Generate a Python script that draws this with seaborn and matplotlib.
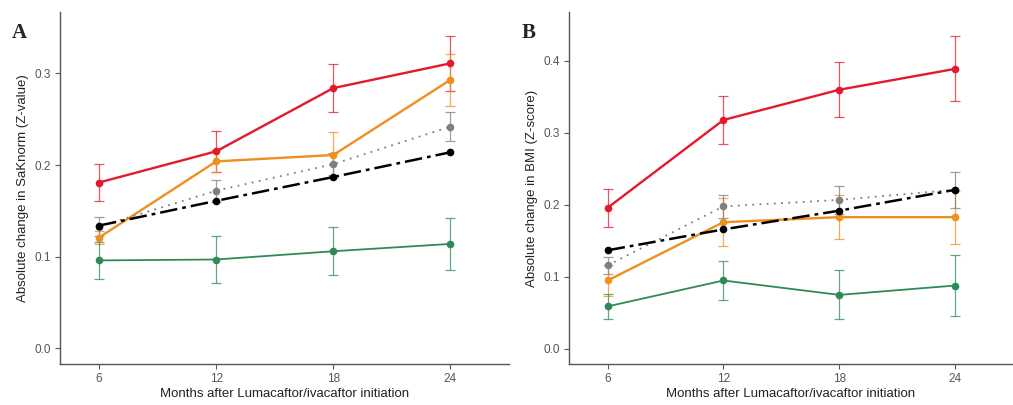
import pandas as pd
import matplotlib
matplotlib.use("Agg")
import matplotlib.pyplot as plt
import seaborn as sns

months = [6, 12, 18, 24]
groups = ["red", "orange", "gray", "black", "green"]

# Panel A - SaKnorm (Z-value)
a_red = [0.181, 0.215, 0.284, 0.311]
a_red_err = [0.020, 0.022, 0.026, 0.030]
a_orange = [0.121, 0.204, 0.211, 0.293]
a_orange_err = [0.007, 0.012, 0.025, 0.028]
a_gray = [0.133, 0.172, 0.201, 0.242]
a_gray_err = [0.010, 0.012, 0.012, 0.016]
a_black = [0.134, 0.161, 0.187, 0.214]
a_green = [0.096, 0.097, 0.106, 0.114]
a_green_err = [0.020, 0.026, 0.026, 0.028]

# Panel B - BMI (Z-score)
b_red = [0.196, 0.318, 0.360, 0.389]
b_red_err = [0.026, 0.034, 0.038, 0.045]
b_orange = [0.095, 0.176, 0.183, 0.183]
b_orange_err = [0.022, 0.033, 0.031, 0.037]
b_gray = [0.116, 0.198, 0.207, 0.221]
b_gray_err = [0.012, 0.016, 0.019, 0.025]
b_black = [0.137, 0.166, 0.192, 0.221]
b_green = [0.059, 0.095, 0.075, 0.088]
b_green_err = [0.017, 0.027, 0.034, 0.042]

colors = {"red": "#e31a2c", "orange": "#ef8f1c", "gray": "#7f7f7f",
          "black": "#000000", "green": "#2e8b57"}
dashes = {"red": "", "orange": "", "gray": (1, 3), "black": (7, 2, 1.5, 2), "green": ""}
widths = {"red": 1.7, "orange": 1.7, "gray": 1.3, "black": 1.8, "green": 1.3}


def build_frame(series):
    rows = []
    for g, vals in series.items():
        for m, v in zip(months, vals):
            rows.append({"month": m, "value": v, "group": g})
    return pd.DataFrame(rows)


def draw_panel(ax, series, errors, ylabel, ylim, yticks):
    df = build_frame(series)
    for g in groups:
        if g in errors:
            ax.errorbar(months, series[g], yerr=errors[g], fmt="none",
                        ecolor=colors[g], elinewidth=0.9, capsize=3.5,
                        capthick=0.9, alpha=0.75, zorder=2)
    for g in groups:
        sub = df[df["group"] == g]
        sns.lineplot(data=sub, x="month", y="value", ax=ax, color=colors[g],
                     marker="o", markersize=5.5, markeredgewidth=0,
                     linewidth=widths[g], dashes=False, zorder=3)
        line = ax.lines[-1]
        if dashes[g]:
            line.set_dashes(dashes[g])
    ax.set_xlim(4.0, 27.0)
    ax.set_ylim(*ylim)
    ax.set_xticks(months)
    ax.set_yticks(yticks)
    ax.set_yticklabels([f"{t:.1f}" for t in yticks])
    ax.set_xlabel("Months after Lumacaftor/ivacaftor initiation", fontsize=9.5,
                  color="#222222", labelpad=2)
    ax.set_ylabel(ylabel, fontsize=9.5, color="#222222", labelpad=4)
    ax.tick_params(axis="both", labelsize=8.5, colors="#555555", length=3.5,
                   width=0.8, bottom=True, left=True, pad=3)
    for side in ["top", "right"]:
        ax.spines[side].set_visible(False)
    for side in ["left", "bottom"]:
        ax.spines[side].set_color("#555555")
        ax.spines[side].set_linewidth(1.0)
    ax.grid(False)


sns.set_theme(style="white")
plt.rcParams["font.family"] = ["Liberation Sans", "DejaVu Sans"]

fig = plt.figure(figsize=(10.13, 4.05), dpi=100)
W, H = 1013, 405
ax_a = fig.add_axes([60 / W, 1 - 364 / H, (509 - 60) / W, (364 - 12) / H])
ax_b = fig.add_axes([569 / W, 1 - 364 / H, (1013 - 569) / W, (364 - 12) / H])

draw_panel(ax_a,
           {"red": a_red, "orange": a_orange, "gray": a_gray, "black": a_black, "green": a_green},
           {"red": a_red_err, "orange": a_orange_err, "gray": a_gray_err, "green": a_green_err},
           "Absolute change in SaKnorm (Z-value)", (-0.017, 0.367),
           [0.0, 0.1, 0.2, 0.3])
draw_panel(ax_b,
           {"red": b_red, "orange": b_orange, "gray": b_gray, "black": b_black, "green": b_green},
           {"red": b_red_err, "orange": b_orange_err, "gray": b_gray_err, "green": b_green_err},
           "Absolute change in BMI (Z-score)", (-0.021, 0.468),
           [0.0, 0.1, 0.2, 0.3, 0.4])

fig.text(12 / W, 1 - 33 / H, "A", fontsize=15, fontweight="bold",
         family="Liberation Serif", va="center", ha="left")
fig.text(522 / W, 1 - 33 / H, "B", fontsize=15, fontweight="bold",
         family="Liberation Serif", va="center", ha="left")

fig.savefig("out.png", dpi=100)
